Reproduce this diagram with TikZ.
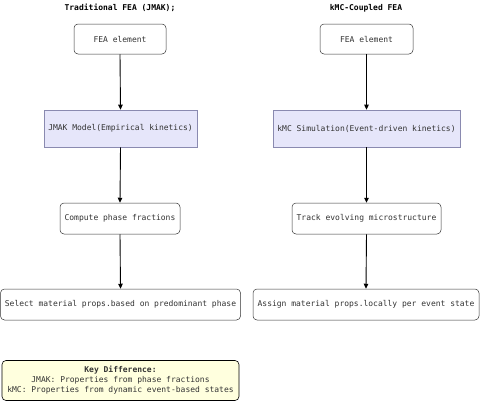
\documentclass[tikz,border=0pt]{standalone}
\usepackage{fontspec}
\setmonofont{DejaVu Sans Mono}
\usetikzlibrary{arrows.meta}
\definecolor{lav}{HTML}{E6E6FA}
\definecolor{lavline}{HTML}{8A8AB0}
\definecolor{keyfill}{HTML}{FFFFDE}
\definecolor{txt}{HTML}{333333}
\tikzset{
  x=1pt,y=1pt,
  every node/.style={font=\ttfamily\fontsize{8}{10}\selectfont, text=txt},
  rbox/.style={draw=txt, line width=0.5pt, rounded corners=4pt, fill=white, inner sep=0pt, align=center},
  lbox/.style={draw=lavline, line width=0.6pt, fill=lav, inner sep=0pt, align=center},
  ttl/.style={font=\ttfamily\bfseries\fontsize{8}{10}\selectfont, text=black},
  arr/.style={-{Triangle[length=5pt,width=4.5pt]}, line width=0.9pt, black}
}
\begin{document}
\begin{tikzpicture}
\useasboundingbox (0,0) rectangle (480,-402);
% titles
\node[ttl] (t1) at (120,-8) {Traditional FEA (JMAK);};
\node[ttl] (t2) at (366,-8) {kMC-Coupled FEA};
% left column
\node[rbox, minimum width=92pt, minimum height=30pt] (a1) at (120,-39) {FEA element};
\node[lbox, minimum width=153pt, minimum height=37pt] (a2) at (120.5,-128.5) {JMAK Model(Empirical kinetics)};
\node[rbox, minimum width=120pt, minimum height=31pt] (a3) at (120,-218.5) {Compute phase fractions};
\node[rbox, minimum width=240pt, minimum height=31pt] (a4) at (120.5,-304.5) {Select material props.based on predominant phase};
% right column
\node[rbox, minimum width=93pt, minimum height=30pt] (b1) at (366.5,-39) {FEA element};
\node[lbox, minimum width=187pt, minimum height=37pt] (b2) at (366.5,-128.5) {kMC Simulation(Event-driven kinetics)};
\node[rbox, minimum width=149pt, minimum height=31pt] (b3) at (366.5,-218.5) {Track evolving microstructure};
\node[rbox, minimum width=226pt, minimum height=31pt] (b4) at (366,-304.5) {Assign material props.locally per event state};
% arrows
\draw[arr] (a1.south) -- (a2.north);
\draw[arr] (a2.south) -- (a3.north);
\draw[arr] (a3.south) -- (a4.north);
\draw[arr] (b1.south) -- (b2.north);
\draw[arr] (b2.south) -- (b3.north);
\draw[arr] (b3.south) -- (b4.north);
% key
\node[draw=black, line width=0.6pt, rounded corners=4pt, fill=keyfill, minimum width=237pt, minimum height=40pt, inner sep=0pt, align=center] (key) at (120.5,-380.5)
  {{\bfseries Key Difference:}\\JMAK: Properties from phase fractions\\kMC: Properties from dynamic event-based states};
\end{tikzpicture}
\end{document}
